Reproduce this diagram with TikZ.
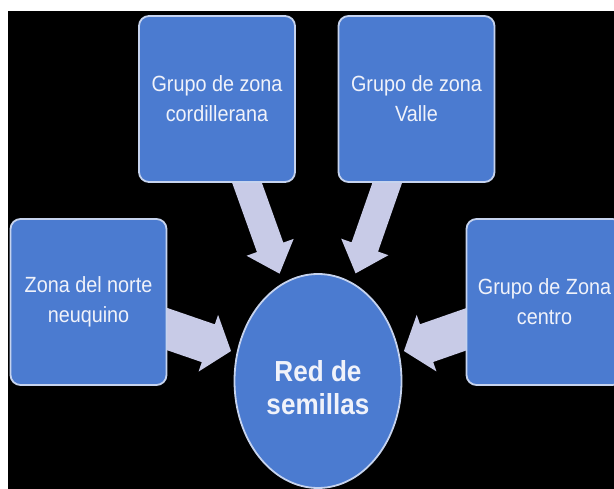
\documentclass[tikz,border=0pt]{standalone}
\usepackage{fontspec}
\setmainfont{Liberation Sans}[FakeStretch=0.9]
\usetikzlibrary{calc,shapes.geometric}
\definecolor{boxblue}{HTML}{4B7BD0}
\definecolor{boxedge}{HTML}{C6D3EE}
\definecolor{arrowfill}{HTML}{C8CBE7}
\definecolor{txtcol}{HTML}{F0F2FA}
\pgfdeclarelayer{back}
\pgfdeclarelayer{mid}
\pgfsetlayers{back,mid,main}
% block arrow from node #1 towards node #2, tip at distance #3 from #2's centre
% #4 shaft half width, #5 head half width, #6 head length
\newcommand\myblockarrow[6]{%
  \pgfmathanglebetweenpoints{\pgfpointanchor{#1}{center}}{\pgfpointanchor{#2}{center}}%
  \edef\myang{\pgfmathresult}%
  \path ($(#2.center)!#3!(#1.center)$) coordinate (tip-#1);
  \begin{scope}[shift={(tip-#1)}, rotate=\myang]
    \fill[arrowfill] (0pt,0pt) -- (-#6,#5) -- (-#6,#4) -- (-130pt,#4)
      -- (-130pt,-#4) -- (-#6,-#4) -- (-#6,-#5) -- cycle;
  \end{scope}}
\begin{document}
\begin{tikzpicture}[x=1pt,y=-1pt,
  zone/.style={draw=boxedge, line width=1.8pt, fill=boxblue, rounded corners=10pt,
    minimum width=156pt, minimum height=166pt, inner sep=0pt, text=txtcol,
    align=center, font=\fontsize{22}{30}\selectfont},
  hub/.style={ellipse, draw=boxedge, line width=1.8pt, fill=boxblue,
    minimum width=167pt, minimum height=214pt, inner sep=0pt, text=txtcol,
    font=\bfseries\fontsize{29}{33}\selectfont}]
\useasboundingbox (0,0) rectangle (614,489);
\begin{pgfonlayer}{back}
  \fill[white] (0,0) rectangle (614,489);
  \fill[black] (8,11) rectangle (614,489);
\end{pgfonlayer}
\clip (0,0) rectangle (614,489);
\node[zone] (cord) at (217,99) {Grupo de zona\\cordillerana};
\node[zone] (valle) at (416.5,99) {Grupo de zona\\Valle};
\node[zone] (norte) at (88.5,302) {Zona del norte\\neuquino};
\node[zone] (centro) at (544.5,302) {Grupo de Zona\\centro};
\node[hub] (ell) at (318,381) {\raisebox{-10pt}[\height][\depth]{\begin{tabular}{@{}c@{}}Red de\\semillas\end{tabular}}};
\begin{pgfonlayer}{mid}
  \myblockarrow{cord}{ell}{114pt}{14pt}{25pt}{28pt}
  \myblockarrow{valle}{ell}{114pt}{14pt}{25pt}{28pt}
  \myblockarrow{norte}{ell}{92pt}{20pt}{30pt}{24pt}
  \myblockarrow{centro}{ell}{91pt}{20pt}{30pt}{24pt}
\end{pgfonlayer}
\end{tikzpicture}
\end{document}
